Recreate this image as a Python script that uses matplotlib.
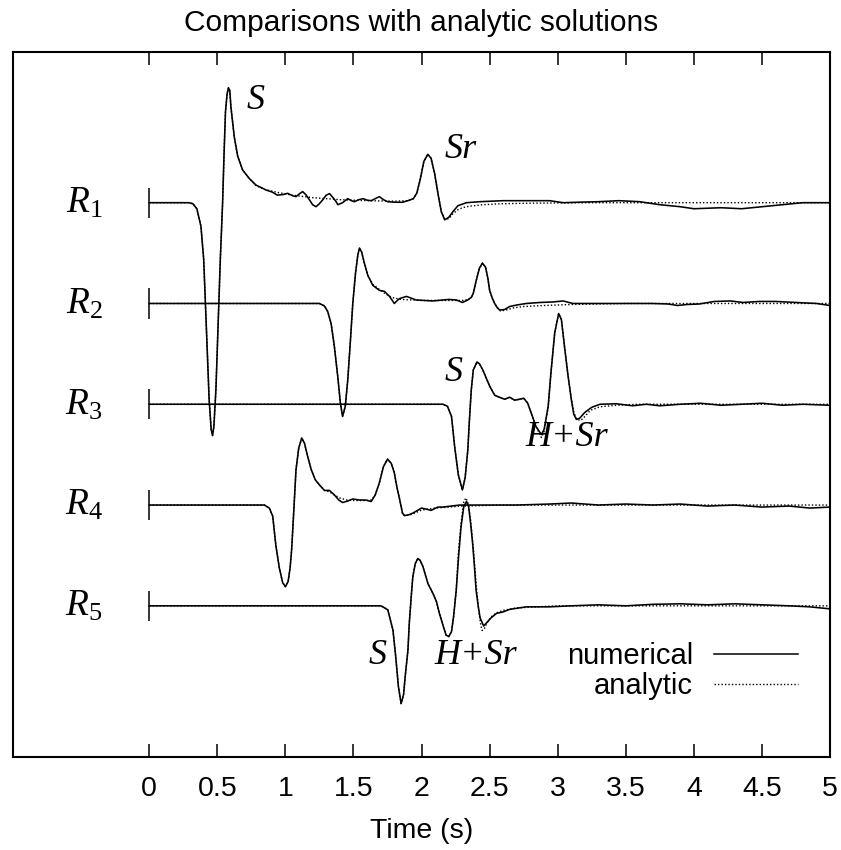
import matplotlib
matplotlib.use("Agg")
import matplotlib.pyplot as plt
import numpy as np
from matplotlib.lines import Line2D

# 数据：(时间 s, 振幅)
trace_names = [r"$R_1$", r"$R_2$", r"$R_3$", r"$R_4$", r"$R_5$"]
trace_offsets = [-1, -2, -3, -4, -5]
tick_values = [0, 0.5, 1, 1.5, 2, 2.5, 3, 3.5, 4, 4.5, 5]
tick_labels = ["0", "0.5", "1", "1.5", "2", "2.5", "3", "3.5", "4", "4.5", "5"]

# R1
r1_head = [(0, 0), (0.29, 0), (0.32, -0.01), (0.35, -0.06), (0.38, -0.235), (0.40, -0.56),
           (0.42, -1.25), (0.44, -1.95), (0.455, -2.25), (0.465, -2.31), (0.475, -2.22),
           (0.49, -1.85), (0.505, -1.25), (0.522, -0.57), (0.539, 0), (0.55, 0.5), (0.56, 0.9),
           (0.572, 1.08), (0.582, 1.14), (0.592, 1.11), (0.60, 0.95), (0.625, 0.65),
           (0.65, 0.46), (0.686, 0.325), (0.735, 0.24)]
r1_num_tail = [(0.784, 0.175), (0.86, 0.125), (0.904, 0.105), (0.941, 0.075), (0.98, 0.08),
               (1.017, 0.093), (1.05, 0.07), (1.078, 0.06), (1.105, 0.09), (1.127, 0.11),
               (1.15, 0.08), (1.176, 0.03), (1.2, -0.02), (1.225, -0.04), (1.25, -0.01),
               (1.275, 0.03), (1.3, 0.075), (1.324, 0.09), (1.35, 0.05), (1.373, 0.01),
               (1.385, -0.02), (1.42, 0.0), (1.458, 0.04), (1.485, 0.02), (1.507, 0.01),
               (1.54, 0.03), (1.57, 0.04), (1.6, 0.025), (1.63, 0.02), (1.66, 0.04),
               (1.69, 0.06), (1.72, 0.03), (1.75, 0.01), (1.8, 0.005), (1.86, 0.004),
               (1.9, 0.02), (1.94, 0.04), (1.965, 0.095), (1.99, 0.23), (2.017, 0.41),
               (2.046, 0.48), (2.07, 0.44), (2.096, 0.29), (2.12, 0.095), (2.145, -0.09),
               (2.17, -0.17), (2.2, -0.145), (2.23, -0.09), (2.267, -0.03), (2.33, 0.0),
               (2.43, 0.01), (2.6, 0.02), (2.79, 0.02), (2.94, 0.02), (3.04, 0.0),
               (3.16, 0.005), (3.3, 0.01), (3.45, 0.02), (3.6, 0.01), (3.75, -0.02),
               (3.9, -0.04), (4.0, -0.06), (4.2, -0.05), (4.35, -0.06), (4.5, -0.04),
               (4.65, -0.02), (4.8, 0.0), (5.0, 0.0)]
r1_ana_tail = [(0.784, 0.17), (0.85, 0.13), (0.95, 0.1), (1.05, 0.075), (1.2, 0.05),
               (1.4, 0.03), (1.6, 0.02), (1.8, 0.015), (1.9, 0.02), (1.94, 0.04),
               (1.965, 0.095), (1.99, 0.23), (2.017, 0.41), (2.046, 0.48), (2.07, 0.44),
               (2.096, 0.29), (2.12, 0.095), (2.145, -0.09), (2.17, -0.16), (2.2, -0.16),
               (2.23, -0.11), (2.267, -0.07), (2.3, -0.05), (2.35, -0.035), (2.45, -0.02),
               (2.6, -0.01), (2.8, -0.005), (3.2, 0), (5.0, 0)]

# R2
r2_head = [(0, 0), (1.25, 0), (1.287, -0.025), (1.311, -0.08), (1.336, -0.2), (1.36, -0.43),
           (1.385, -0.73), (1.404, -0.99), (1.42, -1.12), (1.44, -1.02), (1.458, -0.76),
           (1.478, -0.36), (1.495, 0), (1.515, 0.3), (1.532, 0.48), (1.544, 0.55),
           (1.56, 0.51), (1.58, 0.40), (1.605, 0.28)]
r2_num_tail = [(1.642, 0.18), (1.69, 0.13), (1.728, 0.12), (1.765, 0.07), (1.8, 0.0),
               (1.826, 0.035), (1.84, 0.05), (1.89, 0.07), (1.96, 0.035), (2.08, 0.025),
               (2.2, 0.04), (2.255, 0.035), (2.30, 0.01), (2.34, 0.035), (2.365, 0.06),
               (2.38, 0.10), (2.40, 0.22), (2.425, 0.35), (2.447, 0.40), (2.47, 0.36),
               (2.487, 0.25), (2.50, 0.13), (2.52, 0.05), (2.537, 0.0), (2.555, -0.04),
               (2.574, -0.065), (2.61, -0.06), (2.647, -0.03), (2.7, -0.015), (2.77, 0),
               (2.87, 0.01), (2.965, 0.015), (3.04, 0.025), (3.11, 0), (3.31, 0), (3.43, 0),
               (3.57, 0), (3.69, 0), (3.81, -0.005), (3.88, -0.02), (3.95, -0.01),
               (4.04, -0.005), (4.15, 0.02), (4.27, 0.025), (4.36, 0.01), (4.48, 0.02),
               (4.6, 0.02), (4.75, 0.01), (4.9, 0), (5.0, -0.02)]
r2_ana_tail = [(1.642, 0.19), (1.69, 0.14), (1.73, 0.1), (1.78, 0.06), (1.85, 0.04),
               (2.0, 0.03), (2.2, 0.03), (2.3, 0.03), (2.34, 0.04), (2.365, 0.06),
               (2.38, 0.10), (2.40, 0.22), (2.425, 0.35), (2.447, 0.40), (2.47, 0.36),
               (2.487, 0.25), (2.50, 0.13), (2.52, 0.05), (2.537, 0.0), (2.555, -0.04),
               (2.58, -0.075), (2.62, -0.065), (2.67, -0.045), (2.75, -0.03), (2.9, -0.02),
               (3.1, -0.01), (3.5, 0), (5.0, 0)]

# R3
r3_head = [(0, 0), (2.13, 0), (2.157, 0), (2.19, -0.02), (2.22, -0.12), (2.243, -0.42),
           (2.27, -0.70), (2.30, -0.85), (2.32, -0.73), (2.34, -0.45), (2.35, -0.19),
           (2.365, 0.14), (2.38, 0.34), (2.407, 0.42), (2.426, 0.40), (2.45, 0.34),
           (2.475, 0.26), (2.5, 0.18), (2.537, 0.09), (2.57, 0.07), (2.61, 0.05),
           (2.647, 0.07), (2.684, 0.04), (2.72, 0.05), (2.75, 0.06), (2.78, 0.01),
           (2.806, -0.09), (2.84, -0.22)]
r3_num_tail = [(2.88, -0.30), (2.90, -0.25), (2.93, -0.02), (2.95, 0.31), (2.978, 0.71),
               (3.007, 0.90), (3.027, 0.84), (3.05, 0.57), (3.076, 0.28), (3.1, 0.045),
               (3.118, -0.10), (3.137, -0.15), (3.16, -0.14), (3.2, -0.08), (3.25, -0.03),
               (3.31, 0), (3.43, 0.005), (3.55, -0.015), (3.65, 0), (3.75, -0.015),
               (3.9, 0), (4.05, 0.01), (4.2, -0.01), (4.35, 0.0), (4.5, 0.01),
               (4.65, -0.01), (4.8, 0.0), (5.0, -0.01)]
r3_ana_tail = [(2.88, -0.33), (2.90, -0.27), (2.93, -0.03), (2.95, 0.31), (2.978, 0.71),
               (3.007, 0.90), (3.027, 0.84), (3.05, 0.57), (3.076, 0.28), (3.1, 0.06),
               (3.118, -0.08), (3.14, -0.15), (3.17, -0.16), (3.2, -0.12), (3.24, -0.06),
               (3.31, -0.025), (3.43, -0.01), (3.6, 0), (5.0, 0)]

# R4
r4_head = [(0, 0), (0.846, 0), (0.882, -0.03), (0.907, -0.11), (0.93, -0.40), (0.955, -0.62),
           (0.98, -0.77), (1.0, -0.81), (1.02, -0.76), (1.035, -0.62), (1.046, -0.44),
           (1.056, -0.2), (1.066, 0.05), (1.078, 0.35), (1.098, 0.565), (1.12, 0.665),
           (1.14, 0.615), (1.164, 0.48), (1.19, 0.35), (1.22, 0.25), (1.25, 0.2),
           (1.287, 0.145)]
r4_num_tail = [(1.324, 0.145), (1.36, 0.10), (1.392, 0.05), (1.42, 0.025), (1.458, 0.04),
               (1.495, 0.06), (1.544, 0.05), (1.59, 0.05), (1.63, 0.035), (1.66, 0.10),
               (1.69, 0.22), (1.72, 0.38), (1.75, 0.455), (1.777, 0.415), (1.8, 0.32),
               (1.818, 0.185), (1.84, 0.05), (1.86, -0.08), (1.875, -0.105), (1.91, -0.095),
               (1.936, -0.08), (2.0, -0.03), (2.034, -0.04), (2.07, -0.053), (2.12, -0.02),
               (2.157, -0.02), (2.28, 0), (2.475, 0), (2.7, 0), (2.94, 0.01), (3.1, 0.02),
               (3.3, 0), (3.5, 0.01), (3.7, 0), (3.9, 0.01), (4.1, -0.01), (4.3, 0.0),
               (4.5, -0.02), (4.7, -0.01), (4.85, -0.03), (5.0, -0.02)]
r4_ana_tail = [(1.324, 0.13), (1.36, 0.10), (1.40, 0.07), (1.45, 0.05), (1.5, 0.045),
               (1.55, 0.045), (1.6, 0.045), (1.63, 0.05), (1.66, 0.10), (1.69, 0.22),
               (1.72, 0.38), (1.75, 0.455), (1.777, 0.415), (1.8, 0.32), (1.818, 0.185),
               (1.84, 0.05), (1.86, -0.08), (1.875, -0.105), (1.91, -0.10), (1.95, -0.08),
               (2.0, -0.05), (2.1, -0.03), (2.3, -0.01), (2.6, 0), (5.0, 0)]

# R5
r5_head = [(0, 0), (1.70, 0), (1.716, -0.01), (1.752, -0.04), (1.79, -0.24), (1.81, -0.5),
           (1.83, -0.80), (1.85, -0.97), (1.868, -0.88), (1.88, -0.70), (1.9, -0.44),
           (1.91, -0.17), (1.924, 0.09), (1.936, 0.29), (1.954, 0.42), (1.973, 0.47),
           (1.99, 0.45), (2.01, 0.39), (2.047, 0.22), (2.083, 0.125), (2.11, 0.04),
           (2.13, -0.07), (2.16, -0.205), (2.18, -0.29), (2.2, -0.305), (2.22, -0.255),
           (2.235, -0.11), (2.255, 0.16)]
r5_num_tail = [(2.272, 0.49), (2.29, 0.785), (2.31, 0.985), (2.33, 1.035), (2.346, 0.985),
               (2.363, 0.785), (2.377, 0.59), (2.39, 0.36), (2.4, 0.16), (2.417, -0.01),
               (2.43, -0.12), (2.456, -0.2), (2.48, -0.165), (2.51, -0.12), (2.55, -0.075),
               (2.6, -0.06), (2.647, -0.035), (2.696, -0.025), (2.77, -0.01), (2.94, -0.01),
               (3.1, 0.0), (3.3, 0.01), (3.5, 0.0), (3.7, 0.015), (3.9, 0.02), (4.1, 0.01),
               (4.3, 0.02), (4.5, 0.01), (4.7, 0.0), (4.85, -0.01), (5.0, -0.03)]
r5_ana_tail = [(2.27, 0.52), (2.29, 0.82), (2.31, 1.03), (2.325, 1.07), (2.34, 1.03),
               (2.36, 0.85), (2.377, 0.62), (2.39, 0.40), (2.405, 0.15), (2.42, -0.05),
               (2.435, -0.19), (2.445, -0.245), (2.46, -0.23), (2.48, -0.17), (2.51, -0.11),
               (2.55, -0.07), (2.6, -0.045), (2.7, -0.02), (2.85, -0.01), (3.0, 0), (5.0, 0)]

numerical = [r1_head + r1_num_tail, r2_head + r2_num_tail, r3_head + r3_num_tail,
             r4_head + r4_num_tail, r5_head + r5_num_tail]
analytic = [r1_head + r1_ana_tail, r2_head + r2_ana_tail, r3_head + r3_ana_tail,
            r4_head + r4_ana_tail, r5_head + r5_ana_tail]

# 文字标注
phase_labels = ["S", "Sr", "S", "H+Sr", "S", "H+Sr"]
phase_t = [0.78, 2.29, 2.235, 3.066, 1.68, 2.40]
phase_y = [0.01, -0.477, -2.68, -3.33, -5.49, -5.49]

plt.rcParams["font.family"] = ["Liberation Sans", "DejaVu Sans"]
plt.rcParams["mathtext.fontset"] = "custom"
plt.rcParams["mathtext.it"] = "Liberation Serif:italic"
plt.rcParams["mathtext.rm"] = "Liberation Serif"

fig = plt.figure(figsize=(8.41, 8.5), dpi=100)
ax = fig.add_axes([0.0155, 0.1094, 0.9715, 0.83])

for name, off, num, ana in zip(trace_names, trace_offsets, numerical, analytic):
    t, a = np.array(num).T
    ax.plot(t, a + off, color="black", lw=1.15)
    t2, a2 = np.array(ana).T
    ax.plot(t2, a2 + off, color="black", lw=1.0, dashes=(1, 1.5))
    ax.vlines(0, off - 0.15, off + 0.15, color="black", lw=1.1)
    ax.text(-0.478, off, name, fontsize=27, ha="center", va="center")

for lab, tx, ty in zip(phase_labels, phase_t, phase_y):
    ax.text(tx, ty, lab, fontsize=26, family="Liberation Serif", style="italic",
            ha="center", va="center")

ax.set_xlim(-1, 5)
ax.set_ylim(-6.5, 0.5)
ax.set_xticks(tick_values)
ax.set_xticklabels(tick_labels)
ax.set_yticks([])
ax.tick_params(axis="x", direction="in", length=9.4, width=1.1, top=True,
               labelsize=20.5, pad=14)
for sp in ax.spines.values():
    sp.set_linewidth(1.5)

ax.set_title("Comparisons with analytic solutions", fontsize=21.5, pad=15)
ax.set_xlabel("Time (s)", fontsize=20.5, labelpad=11)

handles = [Line2D([], [], color="black", lw=1.1),
           Line2D([], [], color="black", lw=1.0, dashes=(1, 1.5))]
ax.legend(handles, ["numerical", "analytic"], loc="center right",
          bbox_to_anchor=(0.961, 0.122), frameon=False, markerfirst=False,
          handlelength=2.9, handletextpad=0.7, labelspacing=0.08,
          borderpad=0, borderaxespad=0, fontsize=21)

fig.savefig("out.png", dpi=100)
